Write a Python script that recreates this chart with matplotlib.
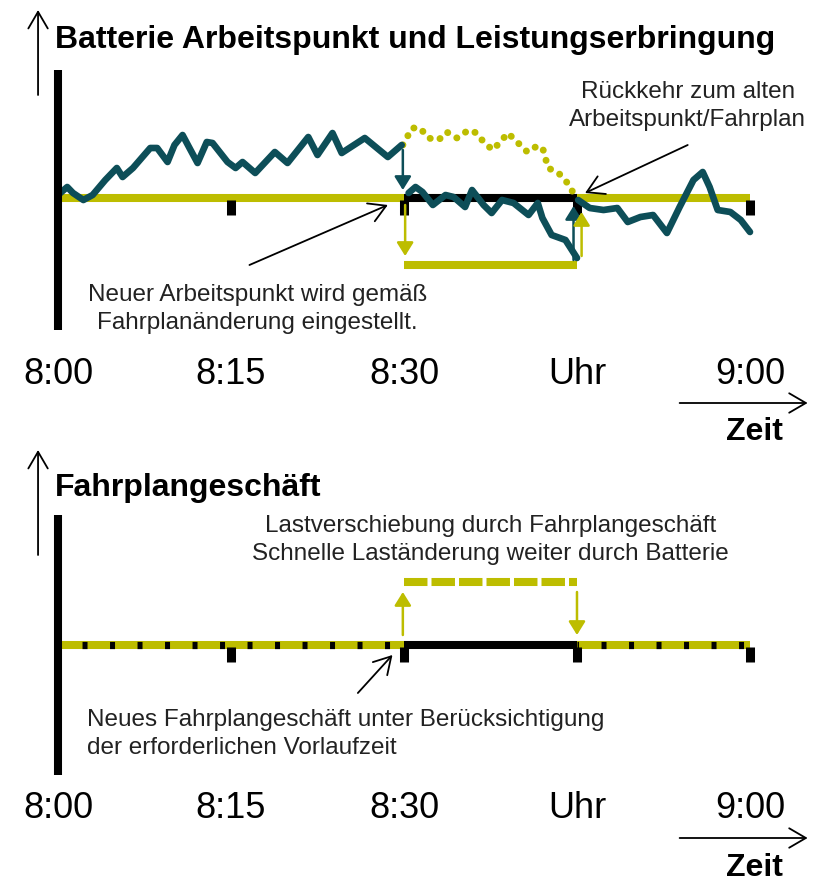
import numpy as np
import matplotlib.pyplot as plt

plt.rcParams['font.family'] = ['Liberation Sans', 'DejaVu Sans']
plt.rcParams['lines.scale_dashes'] = False

YELLOW = '#BDBD00'
TEAL = '#0D4E58'
TEXT = '#222222'

# x = minutes after 8:00, y = power relative to operating point (arbitrary units)
tick_minutes = [0, 15, 30, 45, 60]
tick_labels = ['8:00', '8:15', '8:30', 'Uhr', '9:00']
mark_minutes = [15, 30, 45, 60]

# battery power before the schedule change
t_before = [0.0, 0.8, 1.3, 2.2, 3.0, 4.1, 5.1, 5.6, 6.5, 8.0, 8.6, 9.5, 10.1, 10.8,
            11.4, 12.1, 12.9, 13.4, 14.7, 15.4, 16.0, 17.1, 18.8, 19.9, 21.7, 22.5,
            23.8, 24.6, 26.6, 28.6, 29.8]
p_before = [3, 11, 5, -2, 3, 18, 30, 21, 30, 50, 50, 36, 53, 63,
            50, 35, 56, 55, 36, 30, 36, 25, 46, 35, 61, 43,
            65, 45, 60, 41, 53]

# battery power around the new operating point
t_shift = [30.4, 31.0, 31.6, 32.5, 33.6, 34.3, 35.3, 35.9, 36.9, 37.6, 38.5, 39.5,
           40.8, 41.6, 42.0, 42.8, 44.0, 45.0]
p_shift = [5, 11, 6, -7, 3, 1, -9, 8, -7, -15, -2, -5,
           -17, -5, -20, -37, -42, -60]

# battery power after returning to the old schedule
t_after = [45.1, 46.1, 47.3, 48.5, 49.4, 50.5, 51.6, 52.8, 53.9, 55.1, 55.9, 56.5,
           57.2, 58.3, 59.2, 60.0]
p_after = [-2, -10, -12, -10, -24, -19, -17, -35, -9, 18, 26, 11,
           -12, -14, -22, -34]

# power that would have been delivered without the schedule change
t_old = [29.9, 30.7, 31.4, 32.1, 33.0, 33.7, 34.6, 35.6, 36.3, 36.9, 37.7, 38.5,
         39.0, 39.9, 40.7, 41.4, 42.0, 42.5, 43.4, 44.1, 44.8]
p_old = [53, 70, 70, 60, 58, 66, 60, 68, 65, 56, 48, 58,
         65, 55, 46, 51, 51, 30, 25, 16, 3]

new_level = -67      # shifted operating point (top)
trade_level = 63     # schedule trade level (bottom)
change_start, change_end = 30, 45

PX = 11.533  # pixels per minute
OPEN_HEAD = '->,head_length=0.6,head_width=0.35'


def make_panel(rect, base_py, top_py, bottom_py):
    ax = fig.add_axes(rect)
    ax.set_xlim(-58 / PX, (817 - 58) / PX)
    ax.set_ylim(base_py - bottom_py, base_py - top_py)
    ax.axis('off')
    return ax


def pointer(ax, xy, xytext):
    ax.annotate('', xy=xy, xytext=xytext,
                arrowprops=dict(arrowstyle=OPEN_HEAD, color='black', lw=1.3,
                                mutation_scale=20, shrinkA=0, shrinkB=0))


def axis_decor(ax, title, ytop, ybottom, title_y, arrow_y0, arrow_y1, label_y, zeit_y, zeit_text_y):
    pointer(ax, (-1.73, arrow_y1), (-1.73, arrow_y0))
    ax.text(-0.26, title_y, title, fontsize=23, fontweight='bold', ha='left', va='center')
    ax.plot([0, 0], [ybottom, ytop], color='black', lw=5.8, solid_capstyle='butt', zorder=5)
    for m, lab in zip(tick_minutes, tick_labels):
        ax.text(m, label_y, lab, fontsize=26, ha='center', va='center')
    pointer(ax, (65.0, zeit_y), (53.9, zeit_y))
    ax.text(60.4, zeit_text_y, 'Zeit', fontsize=23, fontweight='bold', ha='center', va='center')
    for m in mark_minutes:
        ax.plot([m, m], [-2, -17], color='black', lw=6.5, solid_capstyle='butt', zorder=3)


def arrow(ax, x, y0, y1, color, scale=18):
    ax.annotate('', xy=(x, y1), xytext=(x, y0),
                arrowprops=dict(arrowstyle='-|>,head_length=0.45,head_width=0.28', color=color,
                                lw=1.8, mutation_scale=scale, shrinkA=0, shrinkB=0), zorder=6)


fig = plt.figure(figsize=(8.17, 8.85), dpi=100)

# ---------------- top panel ----------------
ax1 = make_panel([0, 443 / 885, 1, 442 / 885], 198, 0, 442)
axis_decor(ax1, 'Batterie Arbeitspunkt und Leistungserbringung', 128, -132, 158,
           103, 188, -177, -205, -234)

ax1.plot([0, 60], [0, 0], color=YELLOW, lw=5.8, solid_capstyle='butt', zorder=2)
ax1.plot([change_start, change_end], [0, 0], color='black', lw=5.8, solid_capstyle='butt', zorder=2.5)
ax1.plot([change_start, change_end], [new_level, new_level], color=YELLOW, lw=5.8,
         solid_capstyle='butt', zorder=2)

ax1.plot(t_old, p_old, color=YELLOW, lw=5, linestyle=(0, (0.1, 7.5)), dash_capstyle='round', zorder=3)
for t, p in [(t_before, p_before), (t_shift, p_shift), (t_after, p_after)]:
    ax1.plot(t, p, color=TEAL, lw=4.8, solid_capstyle='round', solid_joinstyle='round', zorder=4)

arrow(ax1, 29.9, 48, 8, TEAL)
arrow(ax1, 44.7, -62, -8, TEAL)
arrow(ax1, 30.1, -7, -58, YELLOW)
arrow(ax1, 45.4, -58, -14, YELLOW)

ax1.text(17.3, -111, 'Neuer Arbeitspunkt wird gemäß\nFahrplanänderung eingestellt.',
         fontsize=17.5, color=TEXT, ha='center', va='center', linespacing=1.3)
pointer(ax1, (28.6, -7), (16.6, -67))
ax1.text(54.6, 92, 'Rückkehr zum alten\nArbeitspunkt/Fahrplan',
         fontsize=17.5, color=TEXT, ha='center', va='center', linespacing=1.3)
pointer(ax1, (45.7, 5), (54.6, 53))

# ---------------- bottom panel ----------------
ax2 = make_panel([0, 0, 1, 443 / 885], 645, 442, 885)
axis_decor(ax2, 'Fahrplangeschäft', 130, -130, 157, 90, 195, -163, -193, -223)

for a, b in [(0, change_start), (change_end, 60)]:
    ax2.plot([a, b], [0, 0], color=YELLOW, lw=5.8, solid_capstyle='butt', zorder=2)
    ax2.plot([a, b], [0, 0], color='black', lw=5.2, linestyle=(2.5, (3.6, 16.2)),
             dash_capstyle='butt', zorder=2.5)
ax2.plot([change_start, change_end], [0, 0], color='black', lw=5.8, solid_capstyle='butt', zorder=2.5)
ax2.plot([change_start, change_end], [trade_level, trade_level], color=YELLOW, lw=5.8,
         linestyle=(0, (16.9, 2.9)), dash_capstyle='butt', zorder=2)

arrow(ax2, 29.9, 10, 53, YELLOW)
arrow(ax2, 45.0, 53, 10, YELLOW)

ax2.text(37.5, 105, 'Lastverschiebung durch Fahrplangeschäft\nSchnelle Laständerung weiter durch Batterie',
         fontsize=17.5, color=TEXT, ha='center', va='center', linespacing=1.3)
ax2.text(2.5, -89, 'Neues Fahrplangeschäft unter Berücksichtigung\nder erforderlichen Vorlaufzeit',
         fontsize=17.5, color=TEXT, ha='left', va='center', linespacing=1.3)
pointer(ax2, (29.0, -10), (26.0, -48))

fig.savefig('out.png', dpi=100)
